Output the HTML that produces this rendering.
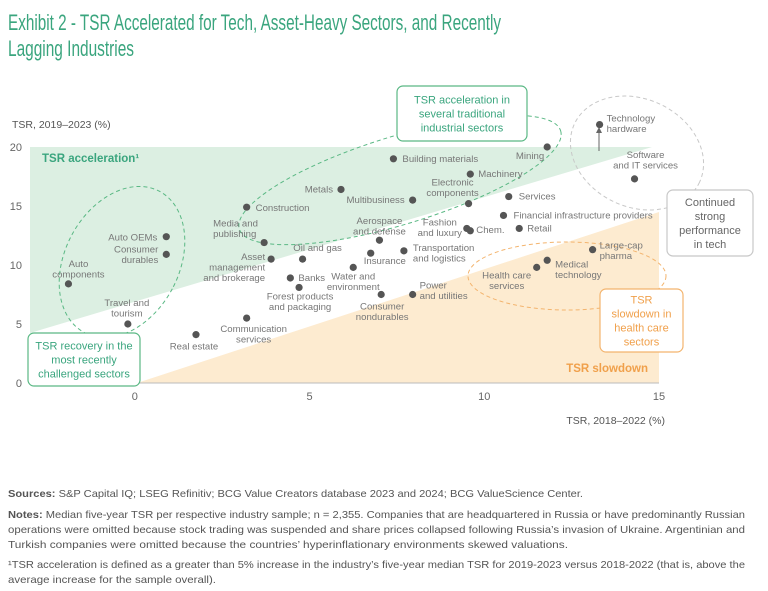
<!DOCTYPE html>
<html><head><meta charset="utf-8">
<style>
html,body{margin:0;padding:0;background:#fff;}
svg{display:block;font-family:"Liberation Sans Narrow","Liberation Sans",sans-serif;}
</style></head>
<body>
<svg id="chart" width="768" height="591" viewBox="0 0 768 591" xmlns="http://www.w3.org/2000/svg">
  <g fill="#3aa57e" font-size="22">
    <text x="8" y="30" textLength="493" lengthAdjust="spacingAndGlyphs">Exhibit 2 - TSR Accelerated for Tech, Asset-Heavy Sectors, and Recently</text>
    <text x="8" y="56" textLength="126" lengthAdjust="spacingAndGlyphs">Lagging Industries</text>
  </g>
  <g id="plot"></g>
  <g fill="#555" font-size="10.5">
    <text x="8" y="497" textLength="575" lengthAdjust="spacingAndGlyphs"><tspan font-weight="bold">Sources:</tspan> S&amp;P Capital IQ; LSEG Refinitiv; BCG Value Creators database 2023 and 2024; BCG ValueScience Center.</text>
    <text x="8" y="518" textLength="737" lengthAdjust="spacingAndGlyphs"><tspan font-weight="bold">Notes:</tspan> Median five-year TSR per respective industry sample; n = 2,355. Companies that are headquartered in Russia or have predominantly Russian</text>
    <text x="8" y="533" textLength="737" lengthAdjust="spacingAndGlyphs">operations were omitted because stock trading was suspended and share prices collapsed following Russia’s invasion of Ukraine. Argentinian and</text>
    <text x="8" y="548" textLength="560" lengthAdjust="spacingAndGlyphs">Turkish companies were omitted because the countries’ hyperinflationary environments skewed valuations.</text>
    <text x="8" y="568" textLength="737" lengthAdjust="spacingAndGlyphs">¹TSR acceleration is defined as a greater than 5% increase in the industry’s five-year median TSR for 2019-2023 versus 2018-2022 (that is, above the</text>
    <text x="8" y="583" textLength="208" lengthAdjust="spacingAndGlyphs">average increase for the sample overall).</text>
  </g>
</svg>
<script>
const categories = ["Auto components","Auto OEMs","Consumer durables","Travel and tourism","Real estate","Communication services","Construction","Media and publishing","Asset management and brokerage","Oil and gas","Banks","Forest products and packaging","Metals","Water and environment","Insurance","Aerospace and defense","Consumer nondurables","Building materials","Multibusiness","Mining","Machinery","Electronic components","Services","Financial infrastructure providers","Fashion and luxury","Chem.","Retail","Transportation and logistics","Power and utilities","Health care services","Medical technology","Large-cap pharma","Technology hardware","Software and IT services"];
const tsr2018 = [-1.9,0.9,0.9,-0.2,1.75,3.2,3.2,3.7,3.9,4.8,4.45,4.7,5.9,6.25,6.75,7.0,7.05,7.4,7.95,11.8,9.6,9.55,10.7,10.55,9.5,9.6,11.0,7.7,7.95,11.5,11.8,13.1,13.3,14.3];
const tsr2019 = [8.4,12.4,10.9,5.0,4.1,5.5,14.9,11.9,10.5,10.5,8.9,8.1,16.4,9.8,11.0,12.1,7.5,19.0,15.5,20.0,17.7,15.2,15.8,14.2,13.1,12.9,13.1,11.2,7.5,9.8,10.4,11.3,21.9,17.3];
const xTicks = [0,5,10,15];
const yTicks = [0,5,10,15,20];
// label layout (presentation only): lines, dx, dy, anchor
const labelLayout = [
 [["Auto","components"],10,-17,"middle"],[["Auto OEMs"],-9,4,"end"],[["Consumer","durables"],-8,-2,"end"],
 [["Travel and","tourism"],-1,-18,"middle"],[["Real estate"],-2,15,"middle"],[["Communication","services"],7,14,"middle"],
 [["Construction"],9,4,"start"],[["Media and","publishing"],-51,-16,"start"],[["Asset","management","and brokerage"],-6,1,"end"],
 [["Oil and gas"],15,-8,"middle"],[["Banks"],8,3,"start"],[["Forest products","and packaging"],1,12,"middle"],
 [["Metals"],-8,3,"end"],[["Water and","environment"],0,12,"middle"],[["Insurance"],-7,11,"start"],
 [["Aerospace","and defense"],0,-16,"middle"],[["Consumer","nondurables"],1,15,"middle"],[["Building materials"],9,3,"start"],
 [["Multibusiness"],-8,3,"end"],[["Mining"],-3,12,"end"],[["Machinery"],8,3,"start"],
 [["Electronic","components"],-16,-18,"middle"],[["Services"],10,3,"start"],[["Financial infrastructure providers"],10,3,"start"],
 [["Fashion","and luxury"],-27,-3,"middle"],[["Chem."],6,2,"start"],[["Retail"],8,3,"start"],
 [["Transportation","and logistics"],9,0,"start"],[["Power","and utilities"],7,-6,"start"],[["Health care","services"],-30,11,"middle"],
 [["Medical","technology"],8,7,"start"],[["Large-cap","pharma"],7,-1,"start"],[["Technology","hardware"],7,-3,"start"],
 [["Software","and IT services"],11,-21,"middle"]
];
const NS="http://www.w3.org/2000/svg";
const X0=30,X1=659,Y0=383,Y1=147,xmin=-3,xmax=15,ymin=0,ymax=20;
function sx(v){return X0+(v-xmin)/(xmax-xmin)*(X1-X0);}
function sy(v){return Y0-(v-ymin)/(ymax-ymin)*(Y0-Y1);}
const plot=document.getElementById('plot');
function mk(tag,attrs,parent){const e=document.createElementNS(NS,tag);for(const k in attrs)e.setAttribute(k,attrs[k]);(parent||plot).appendChild(e);return e;}
function txt(s,attrs,parent){const e=mk('text',attrs,parent);e.textContent=s;return e;}

let e;
e=mk('polygon',{points:`${X0},${Y1} 652,${Y1} ${X0},333`,fill:"#dcefe2"});


e=mk('polygon',{points:`137,${Y0} ${X1},212 ${X1},${Y0}`,fill:"#fdebd0"});


e=mk('line',{x1:X0,y1:Y0,x2:X1,y2:Y0,stroke:"#bbb","stroke-width":1});



xTicks.forEach(t=>{
  e=txt(String(t),{x:sx(t),y:400,"text-anchor":"middle","font-size":11,fill:"#666"});
  
  
});
yTicks.forEach(t=>{
  e=txt(String(t),{x:22,y:sy(t)+4,"text-anchor":"end","font-size":11,fill:"#666"});
  
  
});
e=txt("TSR, 2019–2023 (%)",{x:12,y:128,"font-size":10.5,fill:"#555"});


e=txt("TSR, 2018–2022 (%)",{x:665,y:424,"text-anchor":"end","font-size":10.5,fill:"#555"});


e=txt("TSR acceleration¹",{x:42,y:162,"font-size":11.5,"font-weight":"bold",fill:"#3aa57e"});


e=txt("TSR slowdown",{x:648,y:372,"text-anchor":"end","font-size":11.5,"font-weight":"bold",fill:"#f0a04b"});



// dashed ellipses
e=mk('ellipse',{cx:122,cy:262,rx:57,ry:80,transform:"rotate(28 122 262)",fill:"none",stroke:"#5ab884","stroke-dasharray":"4 3"});


e=mk('ellipse',{cx:400,cy:180,rx:168,ry:44,transform:"rotate(-17 400 180)",fill:"none",stroke:"#5ab884","stroke-dasharray":"4 3"});


e=mk('ellipse',{cx:637,cy:153,rx:69,ry:54,transform:"rotate(25 637 153)",fill:"none",stroke:"#c8c8c8","stroke-dasharray":"4 3"});


e=mk('ellipse',{cx:567,cy:276,rx:99,ry:34,fill:"none",stroke:"#f3b46e","stroke-dasharray":"4 3"});



// arrow
e=mk('line',{x1:599,y1:151,x2:599,y2:131,stroke:"#666","stroke-width":1});


e=mk('polygon',{points:"596,133 602,133 599,127",fill:"#666"});



// points
categories.forEach((c,i)=>{
  const px=sx(tsr2018[i]),py=sy(tsr2019[i]);
  const g=mk('g',{});
  
  
  mk('circle',{cx:px,cy:py,r:3.6,fill:"#555"},g);
  const L=labelLayout[i];
  const t=mk('text',{"font-size":9.6,fill:"#777","text-anchor":L[3]},g);
  L[0].forEach((ln,j)=>{const s=document.createElementNS(NS,'tspan');s.setAttribute('x',px+L[1]);s.setAttribute('y',py+L[2]+j*10.5);s.textContent=ln;t.appendChild(s);});
});

// callouts
function callout(name,x,y,w,h,stroke,color,lines,fs,lh){
  const g=mk('g',{});
  
  
  mk('rect',{x:x,y:y,width:w,height:h,rx:6,fill:"#fff",stroke:stroke,"stroke-width":1.2},g);
  const top=y+h/2-(lines.length-1)*lh/2+fs*0.36;
  lines.forEach((ln,j)=>txt(ln,{x:x+w/2,y:top+j*lh,"text-anchor":"middle","font-size":fs,fill:color},g));
}
callout('callout-industrial',397,86,130,55,"#5ab884","#3aa57e",["TSR acceleration in","several traditional","industrial sectors"],11,14);
callout('callout-tech',667,190,86,66,"#c8c8c8","#666",["Continued","strong","performance","in tech"],11,14);
callout('callout-healthcare',600,289,83,63,"#f3b46e","#f0a04b",["TSR","slowdown in","health care","sectors"],11,14);
callout('callout-recovery',28,333,112,53,"#5ab884","#3aa57e",["TSR recovery in the","most recently","challenged sectors"],11,14);
</script>
</body></html>
